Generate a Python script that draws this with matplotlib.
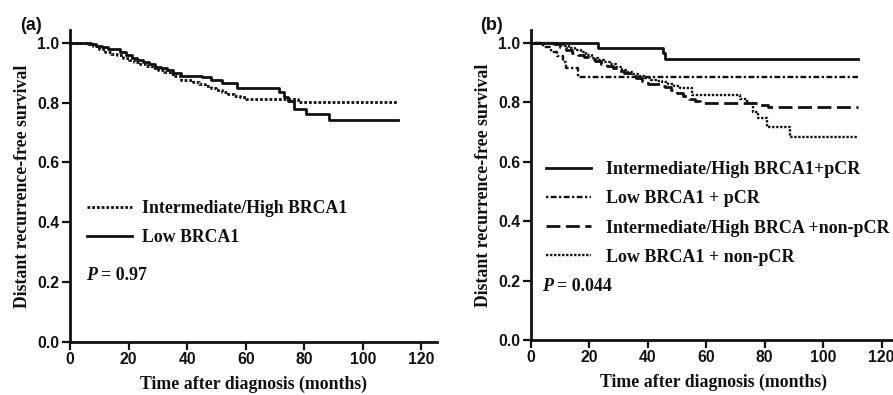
#! /usr/bin/env python3
# Kaplan-Meier style curves, two panels: BRCA1 expression and BRCA1 x pCR
import matplotlib
matplotlib.use('Agg')
import matplotlib.pyplot as plt

# panel (a)
a_low_t = [0, 7, 9, 11, 13, 15, 17, 19, 21, 23, 25, 27, 29, 31, 33, 35, 38, 45, 48, 52, 57, 71.5, 73, 74.5, 76.5, 80.5, 88.5, 112]
a_low_s = [1.0, 0.995, 0.99, 0.985, 0.98, 0.978, 0.97, 0.96, 0.95, 0.942, 0.935, 0.928, 0.92, 0.915, 0.91, 0.9, 0.89, 0.885, 0.875, 0.865, 0.85, 0.835, 0.82, 0.805, 0.78, 0.763, 0.741, 0.741]
a_high_t = [0, 6, 8, 10, 12, 14, 16, 18, 20, 22, 24, 26, 28, 30, 32, 34, 36, 38, 42, 44, 46, 48, 50, 52, 54, 56, 58, 60, 78, 112]
a_high_s = [1.0, 0.997, 0.99, 0.98, 0.97, 0.963, 0.958, 0.95, 0.943, 0.935, 0.93, 0.922, 0.915, 0.91, 0.903, 0.895, 0.89, 0.875, 0.87, 0.862, 0.855, 0.85, 0.843, 0.835, 0.828, 0.822, 0.818, 0.813, 0.803, 0.803]

# panel (b)
b_high_pcr_t = [0, 23, 45.3, 46, 112]
b_high_pcr_s = [1.0, 0.983, 0.965, 0.944, 0.944]
b_low_pcr_t = [0, 4, 7, 9, 11, 12, 16, 112]
b_low_pcr_s = [1.0, 0.985, 0.97, 0.955, 0.935, 0.915, 0.886, 0.886]
b_high_non_t = [0, 8, 10, 12, 14, 16, 18, 20, 22, 24, 26, 28, 30, 32, 34, 36, 38, 40, 44, 46, 48, 50, 52, 54, 56, 58, 78, 81, 112]
b_high_non_s = [1.0, 0.995, 0.985, 0.975, 0.965, 0.958, 0.952, 0.945, 0.938, 0.93, 0.922, 0.915, 0.905, 0.897, 0.888, 0.88, 0.872, 0.862, 0.855, 0.85, 0.84, 0.83, 0.82, 0.81, 0.803, 0.796, 0.79, 0.783, 0.783]
b_low_non_t = [0, 9, 11, 13, 15, 17, 19, 21, 23, 25, 27, 29, 31, 33, 35, 37, 39, 41, 43, 45, 47, 49, 51, 55, 71.5, 73.8, 76, 77.8, 80.7, 88.7, 112]
b_low_non_s = [1.0, 0.995, 0.99, 0.982, 0.975, 0.968, 0.958, 0.95, 0.942, 0.935, 0.927, 0.918, 0.91, 0.903, 0.895, 0.888, 0.88, 0.875, 0.87, 0.868, 0.862, 0.855, 0.848, 0.824, 0.81, 0.796, 0.768, 0.746, 0.717, 0.684, 0.684]

x_ticks = [0, 20, 40, 60, 80, 100, 120]
y_ticks = [0.0, 0.2, 0.4, 0.6, 0.8, 1.0]

SERIF = 'Liberation Serif'
SANS = 'Liberation Sans'
INK = '#111111'


def style_axes(ax):
    ax.set_xlim(0, 125.3)
    ax.set_ylim(0, 1.043)
    for s in ['top', 'right']:
        ax.spines[s].set_visible(False)
    for s in ['left', 'bottom']:
        ax.spines[s].set_linewidth(2.0)
        ax.spines[s].set_color(INK)
    ax.set_xticks(x_ticks)
    ax.set_yticks(y_ticks)
    ax.set_yticklabels(['{:.1f}'.format(v) for v in y_ticks])
    ax.tick_params(direction='out', length=5.5, width=1.6, color=INK, pad=2)
    for lab in ax.get_xticklabels() + ax.get_yticklabels():
        lab.set_fontfamily(SANS)
        lab.set_fontweight('bold')
        lab.set_fontsize(11.3)
        lab.set_color(INK)
    ax.set_xlabel('Time after diagnosis (months)', family=SERIF, weight='bold', fontsize=12.8, color=INK, labelpad=6)
    ax.set_ylabel('Distant recurrence-free survival', family=SERIF, weight='bold', fontsize=12.8, color=INK, labelpad=5)


fig = plt.figure(figsize=(8.93, 3.95), dpi=100)
ax1 = fig.add_axes([70 / 893, 1 - 341.7 / 395, 367 / 893, 311.7 / 395])
ax2 = fig.add_axes([531 / 893, 1 - 340 / 395, 366 / 893, 310 / 395])

# (a)
ax1.step(a_high_t, a_high_s, where='post', color=INK, lw=2.0, ls=(0, (1, 0.7)), label='Intermediate/High BRCA1')
ax1.step(a_low_t, a_low_s, where='post', color=INK, lw=2.0, label='Low BRCA1')
style_axes(ax1)
leg = ax1.legend(loc='upper left', bbox_to_anchor=(0.003, 0.505), frameon=False, handlelength=2.5,
                 handletextpad=0.6, labelspacing=0.65, prop={'family': SERIF, 'weight': 'bold', 'size': 12.8})
for t in leg.get_texts():
    t.set_color(INK)
ax1.text(0.045, 0.199, 'P', transform=ax1.transAxes, family=SERIF, weight='bold', style='italic', fontsize=13, color=INK)
ax1.text(0.085, 0.199, '= 0.97', transform=ax1.transAxes, family=SERIF, weight='bold', fontsize=13, color=INK)

# (b)
ax2.step(b_high_pcr_t, b_high_pcr_s, where='post', color=INK, lw=2.0, label='Intermediate/High BRCA1+pCR')
ax2.step(b_low_pcr_t, b_low_pcr_s, where='post', color=INK, lw=1.7, ls=(0, (1, 1, 2.5, 1)), label='Low BRCA1 + pCR')
ax2.step(b_high_non_t, b_high_non_s, where='post', color=INK, lw=2.0, ls=(0, (5, 2)), label='Intermediate/High BRCA +non-pCR')
ax2.step(b_low_non_t, b_low_non_s, where='post', color=INK, lw=1.7, ls=(0, (1, 0.7)), label='Low BRCA1 + non-pCR')
style_axes(ax2)
leg = ax2.legend(loc='upper left', bbox_to_anchor=(-0.003, 0.63), frameon=False, handlelength=2.5,
                 handletextpad=0.8, labelspacing=0.68, prop={'family': SERIF, 'weight': 'bold', 'size': 13})
for t in leg.get_texts():
    t.set_color(INK)
ax2.text(0.03, 0.159, 'P', transform=ax2.transAxes, family=SERIF, weight='bold', style='italic', fontsize=13, color=INK)
ax2.text(0.07, 0.159, '= 0.044', transform=ax2.transAxes, family=SERIF, weight='bold', fontsize=13, color=INK)

fig.text(20 / 893, 1 - 30 / 395, '(a)', family=SANS, weight='bold', fontsize=13, color=INK)
fig.text(480 / 893, 1 - 30 / 395, '(b)', family=SANS, weight='bold', fontsize=13, color=INK)

plt.savefig('out.png', dpi=100)
plt.close(fig)
